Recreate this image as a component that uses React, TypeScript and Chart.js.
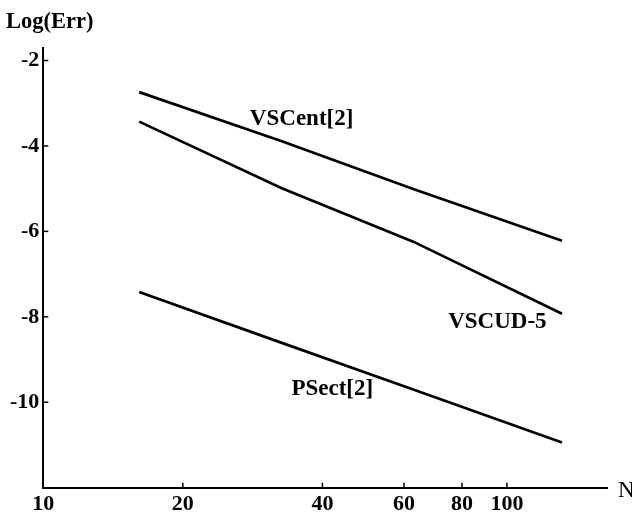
import React, { useEffect, useRef } from "react";
import { Chart, registerables } from "chart.js";

Chart.register(...registerables);

// Data
const nValues = [16.1, 32.7, 62.8, 131.5];
const vsCent = [-2.74, -3.89, -5.01, -6.22];
const vsCud = [-3.43, -4.99, -6.24, -7.93];
const pSect = [-7.42, -8.61, -9.7, -10.94];
const xTicks = [10, 20, 40, 60, 80, 100];
const yTicks = [-10, -8, -6, -4, -2];
const seriesNames = ["VSCent[2]", "VSCUD-5", "PSect[2]"];
const labelAnchorN = [27.9, 74.7, 34.3];
const labelAnchorErr = [-3.51, -8.26, -9.83];

const SERIF = '"Liberation Serif", "Times New Roman", serif';

const overlay = {
  id: "overlay",
  afterDraw(chart: any) {
    const { ctx, chartArea } = chart;
    const x = chart.scales.x;
    const y = chart.scales.y;
    ctx.save();
    ctx.strokeStyle = "#000";
    ctx.lineWidth = 1.5;
    yTicks.forEach((v) => {
      const py = y.getPixelForValue(v);
      ctx.beginPath();
      ctx.moveTo(chartArea.left, py);
      ctx.lineTo(chartArea.left + 5, py);
      ctx.stroke();
    });
    xTicks.slice(1).forEach((v) => {
      const px = x.getPixelForValue(v);
      ctx.beginPath();
      ctx.moveTo(px, chartArea.bottom);
      ctx.lineTo(px, chartArea.bottom - 5);
      ctx.stroke();
    });
    ctx.fillStyle = "#000";
    ctx.textBaseline = "alphabetic";
    ctx.textAlign = "left";
    ctx.font = `bold 23px ${SERIF}`;
    seriesNames.forEach((name, i) => {
      ctx.fillText(
        name,
        x.getPixelForValue(labelAnchorN[i]),
        y.getPixelForValue(labelAnchorErr[i])
      );
    });
    ctx.font = `bold 22.5px ${SERIF}`;
    ctx.fillText("Log(Err)", 6, 27.5);
    ctx.font = `23px ${SERIF}`;
    ctx.fillText("N", 618, 496.5);
    ctx.restore();
  },
};

export default function App() {
  const ref = useRef<HTMLCanvasElement | null>(null);
  useEffect(() => {
    if (!ref.current) return;
    const mk = (vals: number[], label: string) => ({
      label,
      data: nValues.map((n, i) => ({ x: n, y: vals[i] })),
      borderColor: "#000",
      backgroundColor: "#000",
      borderWidth: 2.7,
      pointRadius: 0,
      tension: 0,
      fill: false,
    });
    const tickFont = { family: SERIF, size: 22, weight: "bold" as const };
    const chart = new Chart(ref.current, {
      type: "line",
      data: {
        datasets: [
          mk(vsCent, seriesNames[0]),
          mk(vsCud, seriesNames[1]),
          mk(pSect, seriesNames[2]),
        ],
      },
      options: {
        responsive: false,
        devicePixelRatio: 1,
        animation: false,
        layout: { padding: { top: 47.7, right: 24.3, left: 0, bottom: 0 } },
        plugins: { legend: { display: false }, tooltip: { enabled: false } },
        scales: {
          x: {
            type: "logarithmic",
            min: 10,
            max: 165,
            afterBuildTicks: (s: any) => {
              s.ticks = xTicks.map((v) => ({ value: v }));
            },
            afterFit: (s: any) => {
              s.height = 24.3;
            },
            ticks: {
              font: tickFont,
              color: "#000",
              padding: 3,
              autoSkip: false,
              maxRotation: 0,
              callback: (v: any) => String(v),
            },
            grid: { display: false, drawTicks: false },
            border: { display: true, color: "#000", width: 2 },
          },
          y: {
            type: "linear",
            min: -12,
            max: -1.7,
            afterBuildTicks: (s: any) => {
              s.ticks = yTicks.map((v) => ({ value: v }));
            },
            afterFit: (s: any) => {
              s.width = 43.3;
            },
            ticks: {
              font: tickFont,
              color: "#000",
              padding: 4,
              autoSkip: false,
              callback: (v: any) => String(v),
            },
            grid: { display: false, drawTicks: false },
            border: { display: true, color: "#000", width: 2 },
          },
        },
      },
      plugins: [overlay],
    });
    return () => chart.destroy();
  }, []);
  return (
    <div style={{ position: "absolute", left: 0, top: 0, width: 632, height: 512, background: "#fff" }}>
      <canvas ref={ref} width={632} height={512} />
    </div>
  );
}
